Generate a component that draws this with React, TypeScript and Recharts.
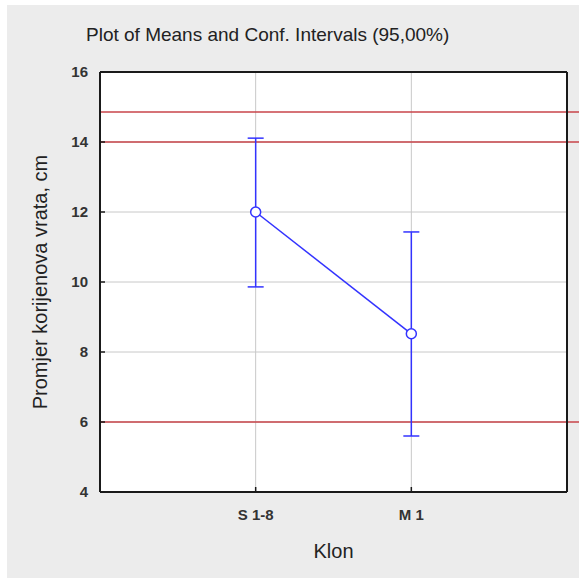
import React from 'react';
import {
  LineChart,
  Line,
  XAxis,
  YAxis,
  CartesianGrid,
  ErrorBar,
  ReferenceLine,
} from 'recharts';

const categories = ['S 1-8', 'M 1'];
const means = [12.0, 8.52];
const upperCI = [14.11, 11.43];
const lowerCI = [9.86, 5.6];
const limitLines = [14.86, 14, 6];
const yTicks = [4, 6, 8, 10, 12, 14, 16];

const data = categories.map((name, i) => ({
  x: i + 1,
  name,
  mean: means[i],
  err: [means[i] - lowerCI[i], upperCI[i] - means[i]],
}));

const font = 'Arial, "Liberation Sans", sans-serif';
const axisColor = '#1a1a1a';

const App: React.FC = () => {
  return (
    <div style={{ position: 'absolute', left: 0, top: 0, width: 579, height: 583, background: '#ffffff', fontFamily: font }}>
      <div style={{ position: 'absolute', left: 7, top: 5, width: 572, height: 573, background: '#ececec' }} />
      <div style={{ position: 'absolute', left: 86, top: 24, fontSize: 19, color: '#222', whiteSpace: 'nowrap' }}>
        Plot of Means and Conf. Intervals (95,00%)
      </div>
      <div style={{ position: 'absolute', left: 0, top: 0 }}>
        <LineChart
          width={579}
          height={583}
          data={data}
          margin={{ top: 72, right: 12, bottom: 61, left: 60 }}
        >
          <CartesianGrid stroke="#c8c8c8" strokeWidth={1} fill="#ffffff" />
          <XAxis
            dataKey="x"
            type="number"
            domain={[0, 3]}
            ticks={[1, 2]}
            tickFormatter={(v: number) => categories[v - 1] ?? ''}
            height={30}
            axisLine={{ stroke: axisColor, strokeWidth: 2 }}
            tickLine={{ stroke: axisColor, strokeWidth: 1.5 }}
            tickSize={-5}
            tickMargin={22}
            tick={{ fontSize: 15, fill: '#333', fontWeight: 'bold', fontFamily: font }}
            label={{ value: 'Klon', position: 'insideBottom', offset: -36, fontSize: 20, fill: '#222', fontFamily: font }}
          />
          <YAxis
            type="number"
            domain={[4, 16]}
            ticks={yTicks}
            width={40}
            axisLine={{ stroke: axisColor, strokeWidth: 2 }}
            tickLine={{ stroke: axisColor, strokeWidth: 1.5 }}
            tickSize={-5}
            tickMargin={17}
            tick={{ fontSize: 15, fill: '#333', fontWeight: 'bold', fontFamily: font }}
            label={{
              value: 'Promjer korijenova vrata, cm',
              angle: -90,
              position: 'insideLeft',
              offset: -20,
              style: { textAnchor: 'middle', fontSize: 20, fill: '#222', fontFamily: font },
            }}
          />
          {limitLines.map((y) => (
            <ReferenceLine
              key={y}
              segment={[{ x: 0, y }, { x: 3.08, y }]}
              ifOverflow="visible"
              stroke="#c8444a"
              strokeWidth={1.5}
            />
          ))}
          <ReferenceLine y={16} stroke={axisColor} strokeWidth={2} />
          <ReferenceLine x={3} stroke={axisColor} strokeWidth={2} />
          <Line
            dataKey="mean"
            stroke="#3333ff"
            strokeWidth={1.5}
            dot={{ r: 5, fill: '#ffffff', stroke: '#3333ff', strokeWidth: 1.5 }}
            activeDot={false}
            isAnimationActive={false}
          >
            <ErrorBar dataKey="err" width={8} stroke="#3333ff" strokeWidth={1.5} direction="y" />
          </Line>
        </LineChart>
      </div>
    </div>
  );
};

export default App;
